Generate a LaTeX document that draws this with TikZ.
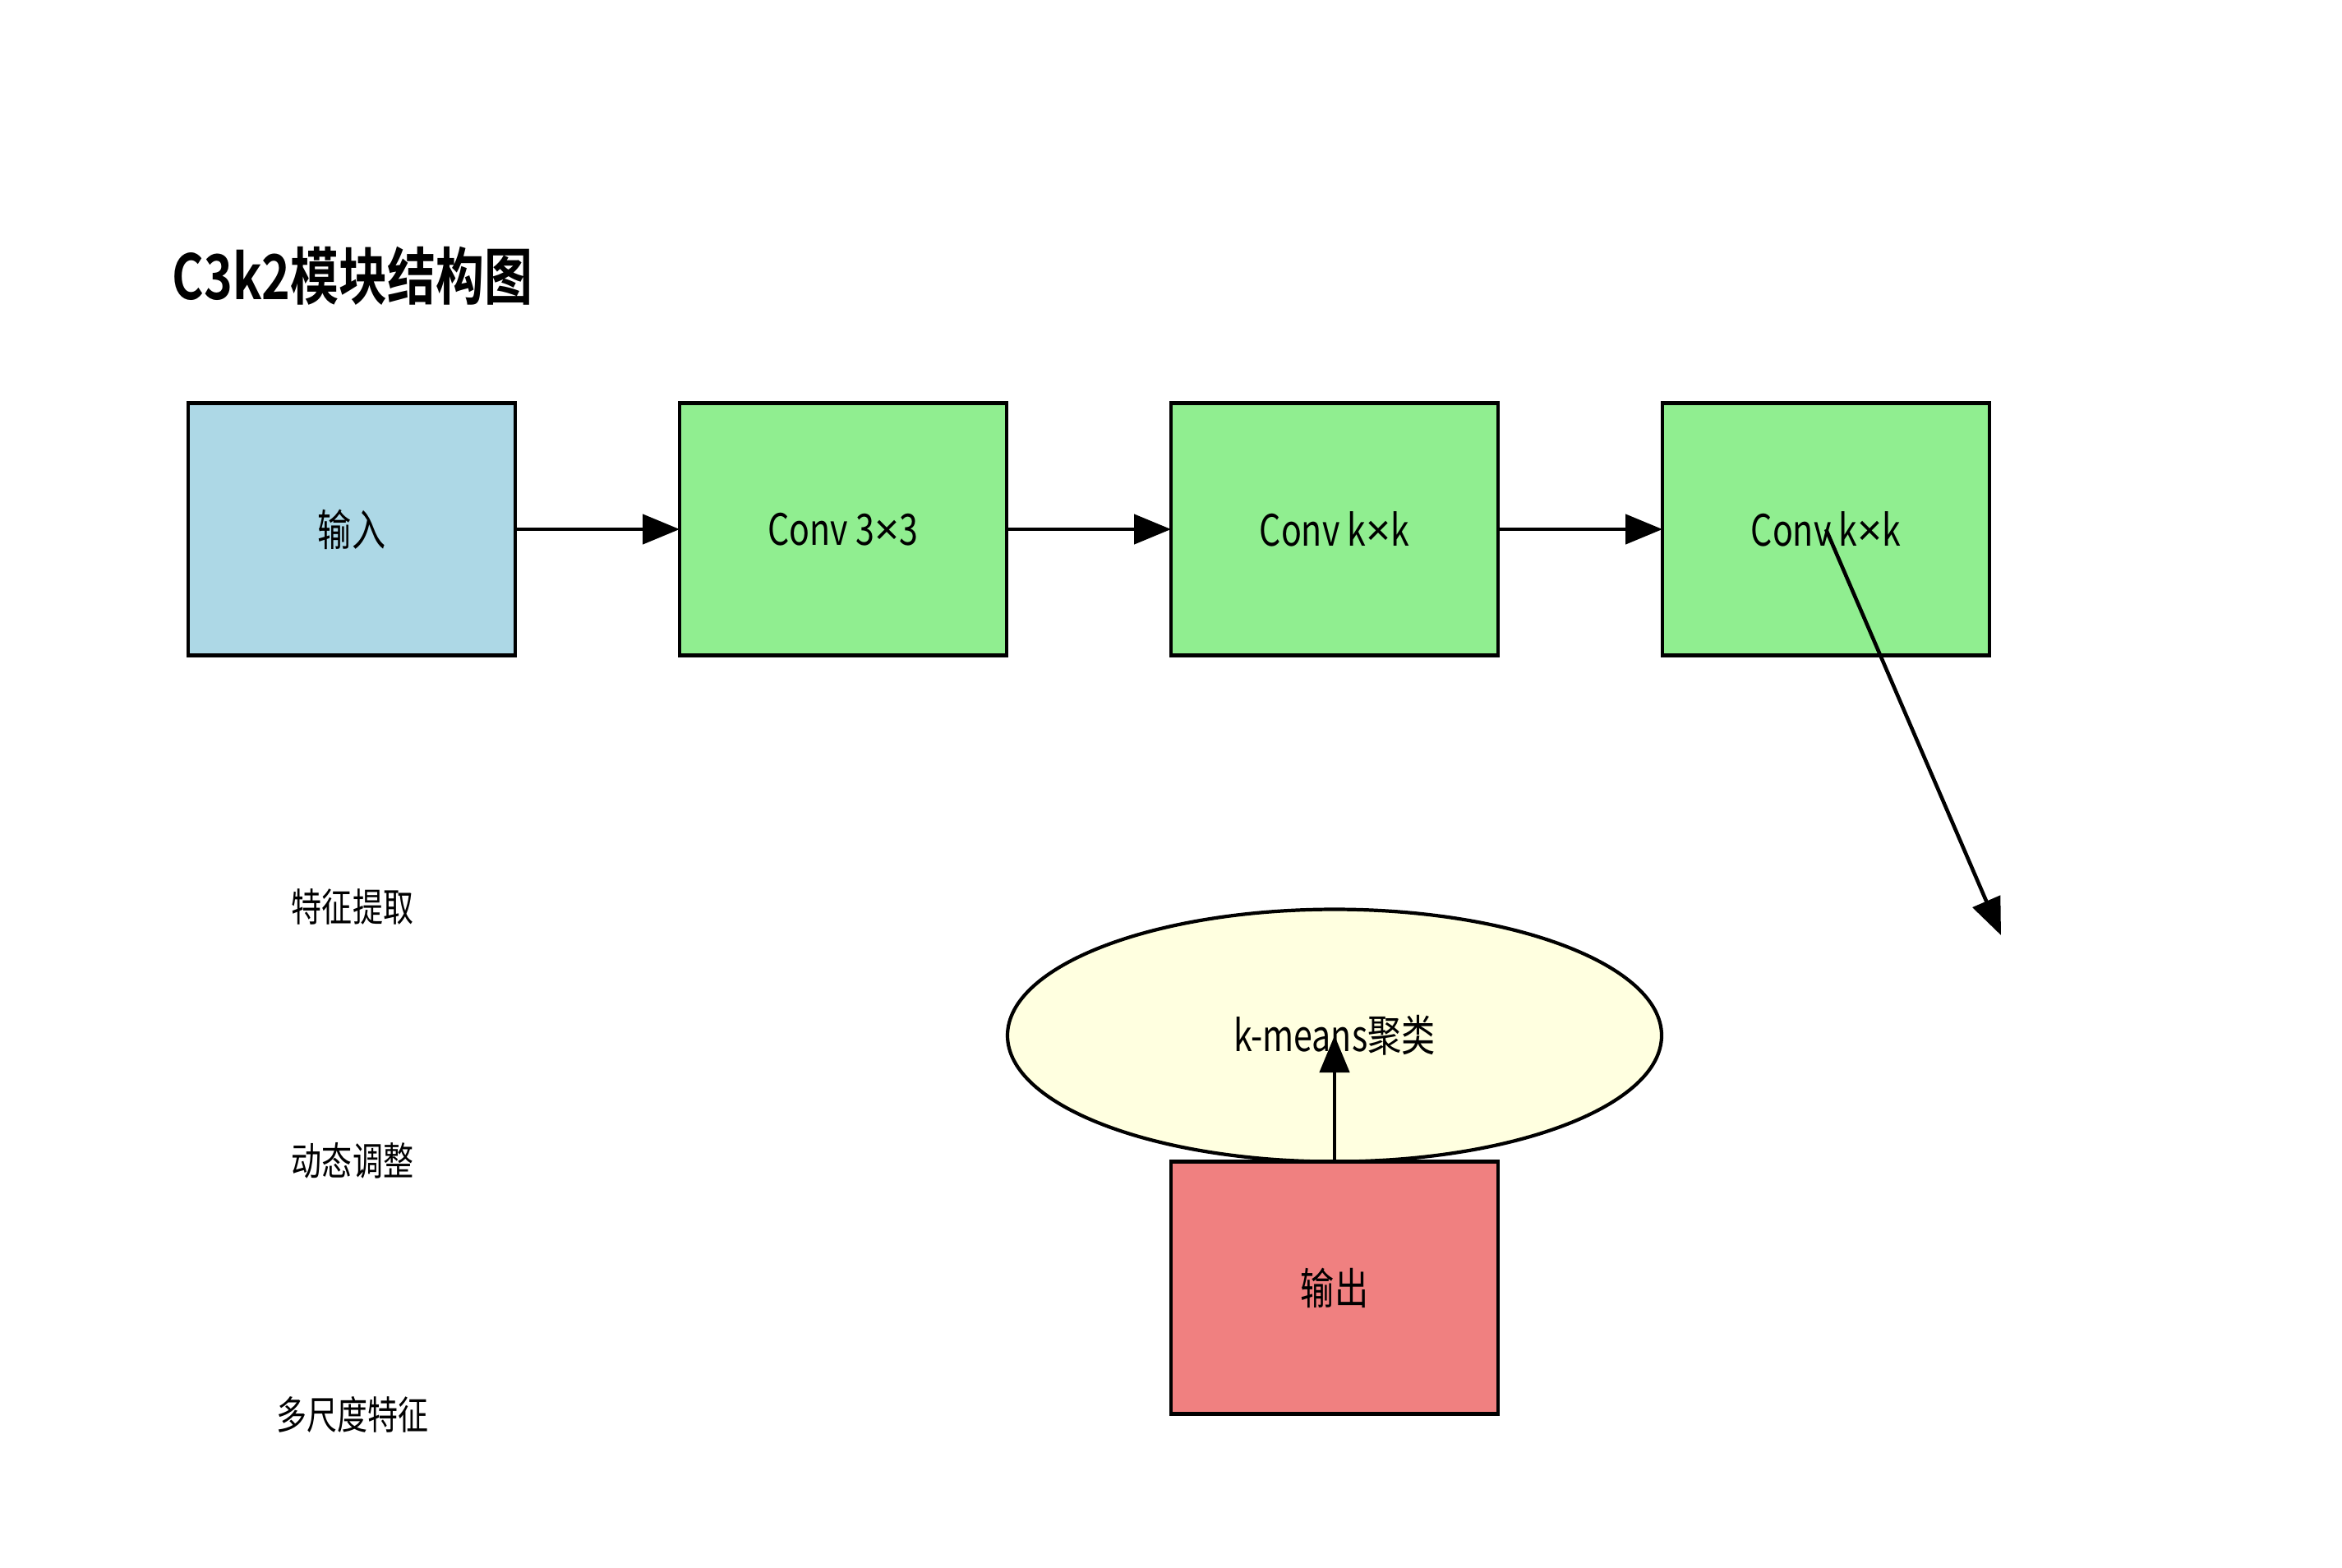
\documentclass[tikz,border=0pt]{standalone}
\usepackage{fontspec}
\setmainfont[FakeStretch=0.78, BoldFont={Noto Sans CJK SC Bold}]{Noto Sans CJK SC}
\newfontfamily\latinfont{Noto Sans}
\newcommand{\tms}{{\latinfont ×}}
\usetikzlibrary{arrows.meta, positioning, shapes.geometric}
\definecolor{inblue}{HTML}{ADD8E6}
\definecolor{convgreen}{HTML}{90EE90}
\definecolor{clusteryellow}{HTML}{FFFFE0}
\definecolor{outred}{HTML}{F08080}

\begin{document}
\begin{tikzpicture}[
    node distance=20mm,
    font=\fontsize{15pt}{18pt}\selectfont,
    >={Triangle[length=4.5mm, width=3.6mm]},
    block/.style={draw, line width=1.2pt, minimum width=39.8mm, minimum height=30.7mm, inner sep=0pt, outer sep=0pt},
    arrow/.style={->, line width=1.3pt},
    note/.style={font=\fontsize{13.5pt}{16pt}\selectfont},
]
\useasboundingbox (0,0) rectangle (28.5,-19.07);

% --- Title
\node[anchor=west, inner sep=0pt, font=\bfseries\fontsize{21.5pt}{25pt}\selectfont] (title) at (2.09,-3.36) {C3k2模块结构图};

% --- Row: conv stages
\node[block, fill=inblue] (input) at (4.28,-6.44) {输入};
\node[block, fill=convgreen, right=of input] (conv1) {Conv 3\tms3};
\node[block, fill=convgreen, right=of conv1] (conv2) {Conv k\tms k};
\node[block, fill=convgreen, right=of conv2] (conv3) {Conv k\tms k};

% --- Clustering and output
\node[draw, ellipse, line width=1.2pt, fill=clusteryellow, minimum width=79.6mm, minimum height=30.7mm, inner sep=0pt, outer sep=0pt] (kmeans) at (16.24,-12.60) {k-means聚类};
\node[block, fill=outred, below=0pt of kmeans] (output) {输出};
\coordinate (branch) at (24.35,-11.38);

% --- Side notes
\node[note] (feat)  at (4.29,-11.03) {特征提取};
\node[note] (adapt) at (4.29,-14.12) {动态调整};
\node[note] (multi) at (4.29,-17.21) {多尺度特征};

% --- Arrows
\draw[arrow] (input) -- (conv1);
\draw[arrow] (conv1) -- (conv2);
\draw[arrow] (conv2) -- (conv3);
\draw[arrow] (conv3.center) -- (branch);
\draw[arrow] (output.north) -- (kmeans.center);

\end{tikzpicture}
\end{document}
